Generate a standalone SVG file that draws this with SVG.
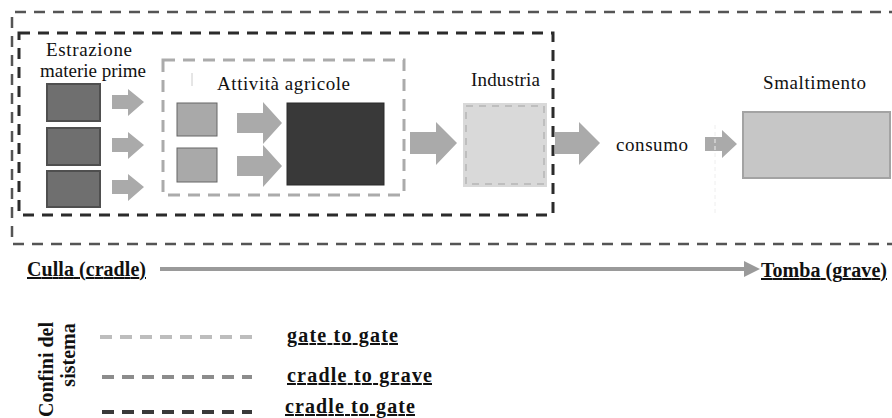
<svg xmlns="http://www.w3.org/2000/svg" width="892" height="418" viewBox="0 0 892 418">
  <defs>
    <style>
      text { font-family: "Liberation Serif", Tinos, "Times New Roman", "DejaVu Serif", "Noto Serif", serif; fill: #111; }
      .lbl { font-size: 19px; }
      .b { font-size: 20px; font-weight: bold; text-decoration: underline; }
      .arrow { fill: #aaaaaa; }
      .raw { fill: #6f6f6f; stroke: #4f4f4f; stroke-width: 2; }
      .farm { fill: #a9a9a9; stroke: #666; stroke-width: 1; }
    </style>
  </defs>

  <rect width="892" height="418" fill="#ffffff"/>

  <!-- system boundaries -->
  <g id="boundaries" fill="none">
    <!-- cradle to grave -->
    <path d="M900,12 H12 V244 H900" stroke="#555" stroke-width="2.5" stroke-dasharray="11,8"/>
    <!-- cradle to gate -->
    <rect x="19" y="33" width="534" height="182" stroke="#2b2b2b" stroke-width="3" stroke-dasharray="11,8"/>
    <!-- gate to gate -->
    <rect x="163" y="60" width="241" height="135" stroke="#ababab" stroke-width="3" stroke-dasharray="12,8"/>
  </g>

  <!-- raw material extraction -->
  <g id="estrazione">
    <text class="lbl" x="89" y="56" text-anchor="middle" textLength="86">Estrazione</text>
    <text class="lbl" x="93" y="77" text-anchor="middle" textLength="106">materie prime</text>
    <rect class="raw" x="47" y="84" width="53" height="37"/>
    <rect class="raw" x="47" y="128" width="53" height="37"/>
    <rect class="raw" x="47" y="171" width="53" height="36"/>
  </g>

  <!-- agricultural activities -->
  <g id="agricole">
    <line x1="192" y1="73" x2="192" y2="86" stroke="#ccc" stroke-width="1"/>
    <text class="lbl" x="217" y="90" textLength="133">Attività agricole</text>
    <rect class="farm" x="177" y="103" width="40" height="33"/>
    <rect class="farm" x="177" y="148" width="40" height="34"/>
    <rect x="287" y="103" width="97" height="82" fill="#393939" stroke="#2a2a2a" stroke-width="1"/>
  </g>

  <!-- industry -->
  <g id="industria">
    <text class="lbl" x="471" y="86" textLength="69">Industria</text>
    <rect x="463" y="103" width="84" height="84" fill="#d9d9d9"/>
    <rect x="466" y="106" width="78" height="78" fill="none" stroke="#b5b5b5" stroke-width="1.5" stroke-dasharray="7,6"/>
  </g>

  <!-- use phase -->
  <g id="consumo">
    <text class="lbl" x="616" y="151" textLength="72">consumo</text>
  </g>

  <!-- disposal -->
  <g id="smaltimento">
    <text class="lbl" x="763" y="89" textLength="103">Smaltimento</text>
    <rect x="743" y="112" width="147" height="66" fill="#c6c6c6" stroke="#a3a3a3" stroke-width="2"/>
  </g>

  <!-- flow arrows -->
  <g id="connectors">
    <polygon class="arrow" points="112,95 128,95 128,89 144,102 128,116 128,109 112,109"/>
    <polygon class="arrow" points="112,138 128,138 128,132 144,145 128,159 128,152 112,152"/>
    <polygon class="arrow" points="112,180 128,180 128,174 144,187 128,201 128,194 112,194"/>
    <polygon class="arrow" points="237,113 263,113 263,102 282,123 263,144 263,133 237,133"/>
    <polygon class="arrow" points="237,156 263,156 263,145 282,166 263,187 263,176 237,176"/>
    <polygon class="arrow" points="410,132 436,132 436,122 457,143 436,165 436,154 410,154"/>
    <polygon class="arrow" points="555,132 579,132 579,122 600,143 579,165 579,154 555,154"/>
    <polygon class="arrow" points="705,137 722,137 722,130 737,144 722,158 722,151 705,151"/>
    <line x1="715" y1="125" x2="715" y2="213" stroke="#eeeeee" stroke-width="1" stroke-dasharray="4,3"/>
    <!-- life cycle axis -->
    <line x1="160" y1="269" x2="748" y2="269" stroke="#9a9a9a" stroke-width="4"/>
    <polygon points="744,261 760,269 744,277" fill="#9a9a9a"/>
  </g>

  <!-- axis labels -->
  <g id="culla">
    <text class="b" x="27" y="276" textLength="119">Culla (cradle)</text>
  </g>
  <g id="tomba">
    <text class="b" x="761" y="277" textLength="126">Tomba (grave)</text>
  </g>

  <!-- legend -->
  <g id="legend">
    <text font-size="20" font-weight="bold" transform="translate(53,417) rotate(-90)">Confini del</text>
    <text font-size="20" font-weight="bold" text-anchor="middle" transform="translate(75,355) rotate(-90)">sistema</text>
    <line x1="100" y1="337" x2="252" y2="337" stroke="#bdbdbd" stroke-width="4" stroke-dasharray="12,8"/>
    <line x1="102" y1="377" x2="252" y2="377" stroke="#8c8c8c" stroke-width="4" stroke-dasharray="12,8"/>
    <line x1="102" y1="412" x2="252" y2="412" stroke="#3a3a3a" stroke-width="4" stroke-dasharray="12,8"/>
    <text class="b" x="287" y="342" textLength="111">gate to gate</text>
    <text class="b" x="287" y="382" textLength="145">cradle to grave</text>
    <text class="b" x="285" y="413" textLength="130">cradle to gate</text>
  </g>
</svg>
